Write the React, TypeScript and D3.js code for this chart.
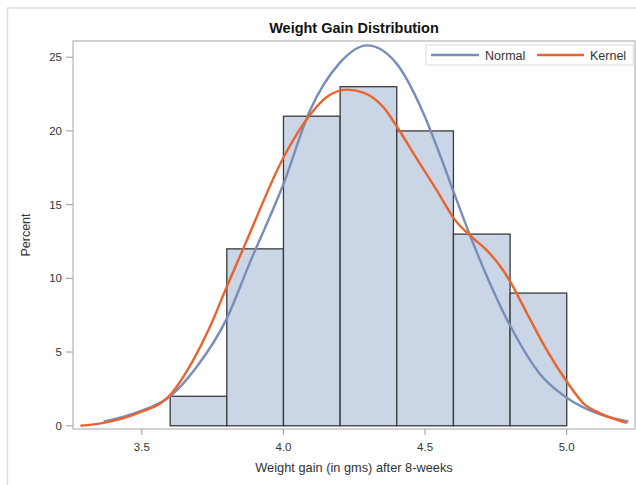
import React from 'react';
import * as d3 from 'd3';

// histogram bins (lower edges) and percent per bin
const binStarts = [3.6, 3.8, 4.0, 4.2, 4.4, 4.6, 4.8];
const binWidth = 0.2;
const percents = [2, 12, 21, 23, 20, 13, 9];

// normal density curve
const normalX = [3.365, 3.483, 3.6, 3.694, 3.798, 3.882, 4.0, 4.094, 4.198, 4.295, 4.398, 4.494, 4.55, 4.6, 4.665, 4.8, 4.906, 5.0, 5.106, 5.218];
const normalY = [0.27, 0.9, 2.0, 4.0, 7.2, 11.1, 16.4, 21.4, 24.6, 25.8, 24.6, 21.2, 18.5, 15.9, 12.6, 6.8, 3.5, 1.9, 0.85, 0.28];

// kernel density curve
const kernelX = [3.283, 3.365, 3.483, 3.6, 3.682, 3.741, 3.798, 3.871, 4.0, 4.094, 4.153, 4.224, 4.282, 4.353, 4.4, 4.471, 4.553, 4.6, 4.671, 4.718, 4.777, 4.8, 4.859, 4.929, 5.0, 5.059, 5.118, 5.212];
const kernelY = [0.0, 0.2, 0.84, 2.09, 4.47, 6.73, 9.35, 12.6, 18.2, 21.1, 22.3, 22.8, 22.6, 21.6, 20.3, 18.1, 15.6, 14.1, 12.7, 11.9, 10.5, 9.8, 7.65, 5.15, 3.0, 1.52, 0.84, 0.2];

const xTicks = [3.5, 4.0, 4.5, 5.0];
const yTicks = [0, 5, 10, 15, 20, 25];

const W = 636;
const H = 485;
const plot = { left: 73, top: 41, right: 635, bottom: 429 };

const font = '"Liberation Sans", Arial, sans-serif';

export default function App() {
  const x = d3.scaleLinear().domain([3.257, 5.241]).range([plot.left, plot.right]);
  const y = d3.scaleLinear().domain([-0.22, 26.1]).range([plot.bottom, plot.top]);

  const line = d3
    .line<[number, number]>()
    .x((d) => x(d[0]))
    .y((d) => y(d[1]))
    .curve(d3.curveMonotoneX);

  const normalPts = normalX.map((v, i) => [v, normalY[i]] as [number, number]);
  const kernelPts = kernelX.map((v, i) => [v, kernelY[i]] as [number, number]);

  const midX = (plot.left + plot.right) / 2;
  const midY = (plot.top + plot.bottom) / 2;

  return (
    <svg width={W} height={H} style={{ position: 'absolute', left: 0, top: 0, background: '#fff' }} fontFamily={font}>
      {/* outer frame */}
      <rect x={7.5} y={8} width={W} height={H} fill="none" stroke="#dedede" strokeWidth={1.5} />

      <text x={midX} y={33} textAnchor="middle" fontSize={14.5} fontWeight="bold" fill="#111">
        Weight Gain Distribution
      </text>

      {/* bars */}
      {binStarts.map((b, i) => (
        <rect
          key={b}
          x={x(b)}
          y={y(percents[i])}
          width={x(b + binWidth) - x(b)}
          height={y(0) - y(percents[i])}
          fill="#cad5e6"
          stroke="#3a3a3a"
          strokeWidth={1.3}
        />
      ))}

      <path d={line(normalPts) || ''} fill="none" stroke="#788db8" strokeWidth={2.4} />
      <path d={line(kernelPts) || ''} fill="none" stroke="#e8632e" strokeWidth={2.4} />

      {/* plot frame */}
      <rect
        x={plot.left}
        y={plot.top}
        width={plot.right - plot.left}
        height={plot.bottom - plot.top}
        fill="none"
        stroke="#c4c4c4"
        strokeWidth={1.5}
      />

      {/* y axis */}
      {yTicks.map((t) => (
        <g key={t}>
          <line x1={66} x2={plot.left} y1={y(t)} y2={y(t)} stroke="#999" />
          <text x={62} y={y(t) + 4} textAnchor="end" fontSize={11.5} fill="#333">
            {t}
          </text>
        </g>
      ))}
      <text transform={`translate(30,${midY}) rotate(-90)`} textAnchor="middle" fontSize={12.5} fill="#333">
        Percent
      </text>

      {/* x axis */}
      {xTicks.map((t) => (
        <g key={t}>
          <line x1={x(t)} x2={x(t)} y1={plot.bottom} y2={plot.bottom + 6} stroke="#999" />
          <text x={x(t)} y={451} textAnchor="middle" fontSize={11.5} fill="#333">
            {t.toFixed(1)}
          </text>
        </g>
      ))}
      <text x={midX} y={472} textAnchor="middle" fontSize={12.8} fill="#333">
        Weight gain (in gms) after 8-weeks
      </text>

      {/* legend */}
      <rect x={426} y={45} width={207} height={20} fill="#fff" stroke="#dcdcdc" />
      <line x1={431} x2={479} y1={55} y2={55} stroke="#788db8" strokeWidth={2.4} />
      <text x={485} y={59.5} fontSize={12.5} fill="#333">Normal</text>
      <line x1={537} x2={584} y1={55} y2={55} stroke="#e8632e" strokeWidth={2.4} />
      <text x={590} y={59.5} fontSize={12.5} fill="#333">Kernel</text>
    </svg>
  );
}
